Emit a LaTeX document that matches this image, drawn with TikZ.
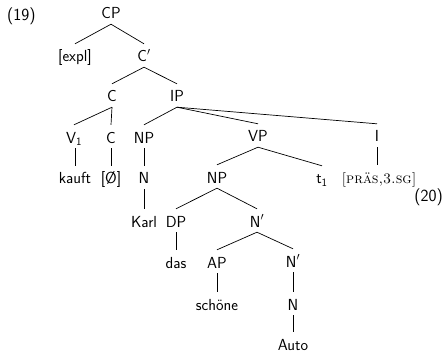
\documentclass[tikz,border=0pt]{standalone}
\usepackage{fontspec}
\begin{document}
\begin{tikzpicture}[x=1pt,y=-1pt,
  lab/.style={anchor=base, inner sep=2pt, text height=16pt, text depth=3pt,
    font=\sffamily\fontsize{16}{19}\selectfont},
  ex/.style={inner sep=0pt, font=\sffamily\fontsize{17}{20}\selectfont},
  br/.style={line width=0.7pt}]
\useasboundingbox (0,0) rectangle (448,353);
\node[ex, anchor=base west] (e19) at (7,21) {(19)};
\node[ex, anchor=base east] (e20) at (443,202) {(20)};
\node[lab] (CP) at (111,19) {CP};
\node[lab] (expl) at (75,62) {[expl]};
\node[lab] (Cb) at (144,62) {C$'$};
\node[lab] (C1) at (112,102) {C};
\node[lab] (IP) at (177,102) {IP};
\node[lab] (V1) at (74,143) {V\textsubscript{1}};
\node[lab] (C2) at (111,143) {C};
\node[lab] (NP1) at (144,143) {NP};
\node[lab] (VP) at (258,142) {VP};
\node[lab] (I) at (377,142) {I};
\node[lab] (kauft) at (75,184) {kauft};
\node[lab] (zero) at (111,184) {[Ø]};
\node[lab] (N1) at (144,184) {N};
\node[lab] (NP2) at (217,183) {NP};
\node[lab] (t1) at (322,184) {t\textsubscript{1}};
\node[lab, font=\rmfamily\fontsize{14.5}{17}\selectfont] (pres) at (379,183) {\textsc{[präs,3.sg]}};
\node[lab] (Karl) at (144,227) {Karl};
\node[lab] (DP) at (176,227) {DP};
\node[lab] (Nb1) at (257,227) {N$'$};
\node[lab] (das) at (176,268) {das};
\node[lab] (AP) at (217,268) {AP};
\node[lab] (Nb2) at (293,267) {N$'$};
\node[lab] (schone) at (217,310) {schöne};
\node[lab] (N2) at (293,310) {N};
\node[lab] (Auto) at (293,350) {Auto};
\draw[br] (CP.south) -- (expl.north);
\draw[br] (CP.south) -- (Cb.north);
\draw[br] (Cb.south) -- (C1.north);
\draw[br] (Cb.south) -- (IP.north);
\draw[br] (C1.south) -- (V1.north);
\draw[br] (C1.south) -- (C2.north);
\draw[br] (IP.south) -- (NP1.north);
\draw[br] (IP.south) -- (VP.north);
\draw[br] (IP.south) -- (I.north);
\draw[br] (kauft.north) -- (kauft.north |- V1.south);
\draw[br] (zero.north) -- (zero.north |- C2.south);
\draw[br] (N1.north) -- (N1.north |- NP1.south);
\draw[br] (VP.south) -- (NP2.north);
\draw[br] (VP.south) -- (t1.north);
\draw[br] (I.south) -- (I.south |- pres.north);
\draw[br] (Karl.north) -- (Karl.north |- N1.south);
\draw[br] (NP2.south) -- (DP.north);
\draw[br] (NP2.south) -- (Nb1.north);
\draw[br] (das.north) -- (das.north |- DP.south);
\draw[br] (Nb1.south) -- (AP.north);
\draw[br] (Nb1.south) -- (Nb2.north);
\draw[br] (schone.north) -- (schone.north |- AP.south);
\draw[br] (N2.north) -- (N2.north |- Nb2.south);
\draw[br] (Auto.north) -- (Auto.north |- N2.south);
\end{tikzpicture}
\end{document}
